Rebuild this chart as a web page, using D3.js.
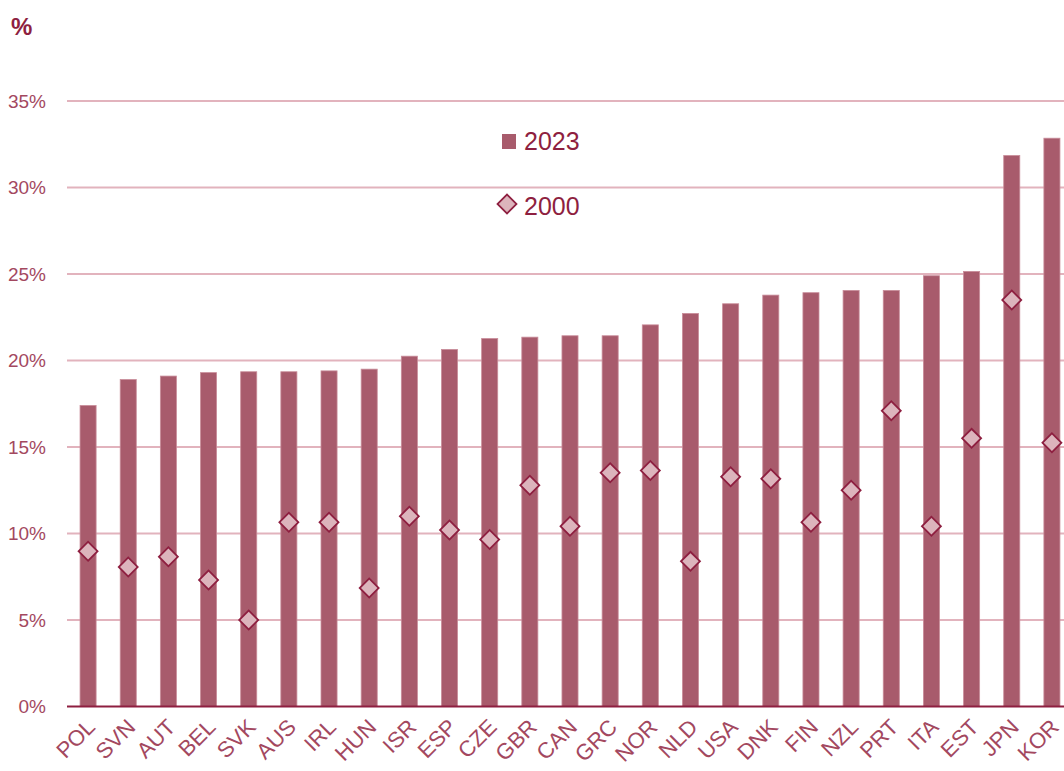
<!DOCTYPE html>
<html lang="en">
<head>
  <meta charset="UTF-8">
  <title>Share 2023 vs 2000</title>
  <style>
    body { margin: 0; background: #fff; }
    svg { display: block; font-family: "Liberation Sans", Arial, sans-serif; }
  </style>
</head>
<body>
  <svg width="1064" height="771"></svg>

  <script src="https://d3js.org/d3.v7.min.js"></script>
  <script>
    const countries = ["POL", "SVN", "AUT", "BEL", "SVK", "AUS", "IRL", "HUN", "ISR", "ESP", "CZE", "GBR", "CAN",
      "GRC", "NOR", "NLD", "USA", "DNK", "FIN", "NZL", "PRT", "ITA", "EST", "JPN", "KOR"];
    const values2023 = [17.4, 18.9, 19.1, 19.3, 19.35, 19.35, 19.4, 19.5, 20.25, 20.64, 21.27, 21.35, 21.43,
      21.43, 22.06, 22.72, 23.28, 23.78, 23.92, 24.05, 24.05, 24.9, 25.15, 31.85, 32.85];
    const values2000 = [8.97, 8.06, 8.66, 7.31, 5.0, 10.65, 10.65, 6.85, 11.0, 10.2, 9.65, 12.79, 10.42,
      13.51, 13.64, 8.39, 13.28, 13.16, 10.65, 12.5, 17.1, 10.42, 15.5, 23.5, 15.25];
    const yTicks = [0, 5, 10, 15, 20, 25, 30, 35];

    const barColor = "#a85b6c";
    const darkColor = "#8e1f40";
    const textColor = "#a3485f";

    const svg = d3.select("svg");

    const x = d3.scaleBand()
      .domain(countries)
      .range([68, 1072])
      .paddingInner(0.6)
      .paddingOuter(0.3);

    const y = d3.scaleLinear()
      .domain([0, 35])
      .range([706.5, 101]);

    // gridlines
    svg.append("g")
      .selectAll("line")
      .data(yTicks.filter(d => d > 0))
      .enter()
      .append("line")
      .attr("x1", 67)
      .attr("x2", 1064)
      .attr("y1", d => y(d))
      .attr("y2", d => y(d))
      .attr("stroke", "#e2b3bd")
      .attr("stroke-width", 2);

    // y tick labels
    svg.append("g")
      .selectAll("text")
      .data(yTicks)
      .enter()
      .append("text")
      .attr("x", 46)
      .attr("y", d => y(d))
      .attr("dy", "0.35em")
      .attr("text-anchor", "end")
      .attr("fill", textColor)
      .style("font-size", "19px")
      .text(d => d + "%");

    svg.append("text")
      .attr("x", 11)
      .attr("y", 35)
      .attr("fill", darkColor)
      .style("font-size", "24px")
      .style("font-weight", "bold")
      .text("%");

    // bars
    svg.append("g")
      .selectAll("rect")
      .data(countries)
      .enter()
      .append("rect")
      .attr("x", d => x(d))
      .attr("width", x.bandwidth())
      .attr("y", (d, i) => y(values2023[i]))
      .attr("height", (d, i) => y(0) - y(values2023[i]))
      .attr("fill", barColor)
      .attr("stroke", "#c98d9a")
      .attr("stroke-width", 0.8);

    // zero line
    svg.append("line")
      .attr("x1", 67)
      .attr("x2", 1064)
      .attr("y1", y(0))
      .attr("y2", y(0))
      .attr("stroke", darkColor)
      .attr("stroke-width", 2);

    // 2000 diamonds
    const diamond = d3.symbol().type(d3.symbolSquare).size(180);
    svg.append("g")
      .selectAll("path")
      .data(countries)
      .enter()
      .append("path")
      .attr("d", diamond)
      .attr("transform", (d, i) => "translate(" + (x(d) + x.bandwidth() / 2) + "," + y(values2000[i]) + ") rotate(45)")
      .attr("fill", "#dcb4bc")
      .attr("stroke", darkColor)
      .attr("stroke-width", 1.8);

    // x labels
    svg.append("g")
      .selectAll("text")
      .data(countries)
      .enter()
      .append("text")
      .attr("transform", d => "translate(" + (x(d) + x.bandwidth() / 2 + 3) + ",723) rotate(-45)")
      .attr("text-anchor", "end")
      .attr("dy", "0.35em")
      .attr("fill", textColor)
      .style("font-size", "22px")
      .text(d => d);

    // legend
    const legend = svg.append("g");
    legend.append("rect")
      .attr("x", 502)
      .attr("y", 134)
      .attr("width", 14)
      .attr("height", 15)
      .attr("fill", barColor);
    legend.append("text")
      .attr("x", 524)
      .attr("y", 141)
      .attr("dy", "0.35em")
      .attr("fill", darkColor)
      .style("font-size", "25px")
      .text("2023");
    legend.append("path")
      .attr("d", diamond)
      .attr("transform", "translate(507,204) rotate(45)")
      .attr("fill", "#dcb4bc")
      .attr("stroke", darkColor)
      .attr("stroke-width", 1.8);
    legend.append("text")
      .attr("x", 524)
      .attr("y", 206)
      .attr("dy", "0.35em")
      .attr("fill", darkColor)
      .style("font-size", "25px")
      .text("2000");
  </script>
</body>
</html>
